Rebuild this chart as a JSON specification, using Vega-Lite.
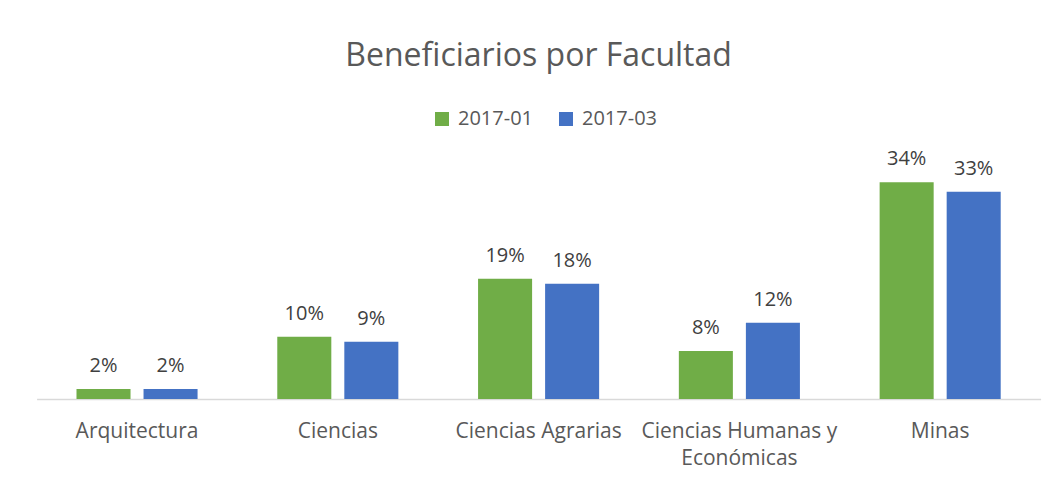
{
  "$schema": "https://vega.github.io/schema/vega-lite/v6.json",
  "width": 1004,
  "height": 252,
  "autosize": {"type": "none"},
  "padding": {"left": 36.6, "top": 147, "right": 14.4, "bottom": 85},
  "background": "white",
  "title": {
    "text": "Beneficiarios por Facultad",
    "font": "Open Sans",
    "fontSize": 32,
    "fontWeight": "normal",
    "color": "#595959",
    "anchor": "middle",
    "offset": 36
  },
  "data": {
    "values": [
      {"facultad": "Arquitectura", "periodo": "2017-01", "valor": 0.016},
      {"facultad": "Arquitectura", "periodo": "2017-03", "valor": 0.016},
      {"facultad": "Ciencias", "periodo": "2017-01", "valor": 0.099},
      {"facultad": "Ciencias", "periodo": "2017-03", "valor": 0.091},
      {"facultad": "Ciencias Agrarias", "periodo": "2017-01", "valor": 0.191},
      {"facultad": "Ciencias Agrarias", "periodo": "2017-03", "valor": 0.183},
      {"facultad": "Ciencias Humanas y Económicas", "periodo": "2017-01", "valor": 0.076},
      {"facultad": "Ciencias Humanas y Económicas", "periodo": "2017-03", "valor": 0.121},
      {"facultad": "Minas", "periodo": "2017-01", "valor": 0.344},
      {"facultad": "Minas", "periodo": "2017-03", "valor": 0.329}
    ]
  },
  "encoding": {
    "x": {
      "field": "facultad",
      "type": "nominal",
      "sort": null,
      "scale": {"paddingInner": 0.397, "paddingOuter": 0.1987},
      "axis": {
        "title": null,
        "labelAngle": 0,
        "labelFont": "Open Sans",
        "labelFontSize": 21,
        "labelColor": "#595959",
        "labelPadding": 21,
        "labelLineHeight": 27,
        "labelLimit": 400,
        "labelExpr": "length(datum.value) > 20 ? ['Ciencias Humanas  y', 'Económicas'] : datum.value",
        "ticks": false,
        "domainColor": "#D9D9D9",
        "domainWidth": 1.5,
        "grid": false
      }
    },
    "xOffset": {
      "field": "periodo",
      "type": "nominal",
      "scale": {"paddingInner": 0.194, "paddingOuter": 0}
    },
    "y": {
      "field": "valor",
      "type": "quantitative",
      "scale": {"domain": [0, 0.4]},
      "axis": null
    }
  },
  "layer": [
    {
      "mark": {"type": "bar"},
      "encoding": {
        "color": {
          "field": "periodo",
          "type": "nominal",
          "scale": {"domain": ["2017-01", "2017-03"], "range": ["#70AD47", "#4472C4"]},
          "legend": {
            "title": null,
            "orient": "none",
            "direction": "horizontal",
            "legendX": 395.4,
            "legendY": -38,
            "symbolType": "square",
            "symbolSize": 196,
            "symbolStrokeWidth": 0,
            "symbolOpacity": 1,
            "labelFont": "Open Sans",
            "labelFontSize": 20,
            "labelColor": "#595959",
            "labelOffset": 6,
            "columnPadding": 22
          }
        }
      }
    },
    {
      "mark": {
        "type": "text",
        "baseline": "alphabetic",
        "dy": -17,
        "font": "Open Sans",
        "fontSize": 20,
        "color": "#404040"
      },
      "encoding": {
        "text": {"field": "valor", "type": "quantitative", "format": ".0%"}
      }
    }
  ],
  "config": {
    "view": {"stroke": null}
  }
}
